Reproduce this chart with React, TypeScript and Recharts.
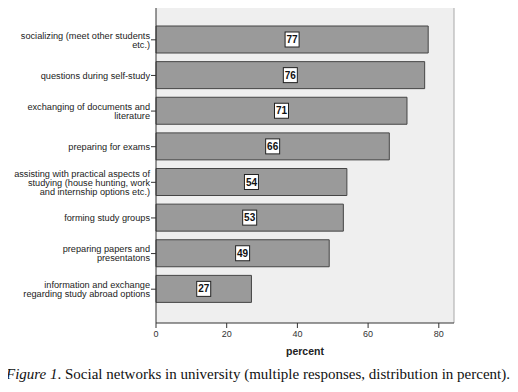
import { BarChart, Bar, XAxis, YAxis, CartesianGrid, LabelList } from "recharts";

const categories = [
  "socializing (meet other students\netc.)",
  "questions during self-study",
  "exchanging of documents and\nliterature",
  "preparing for exams",
  "assisting with practical aspects of\nstudying (house hunting, work\nand internship options etc.)",
  "forming study groups",
  "preparing papers and\npresentatons",
  "information and exchange\nregarding study abroad options",
];

const percentValues = [77, 76, 71, 66, 54, 53, 49, 27];

const xTicks = [0, 20, 40, 60, 80];

const data = categories.map((name, i) => ({ name, percent: percentValues[i] }));

const sans = "'Liberation Sans', Arial, sans-serif";

// multi-line category labels, centered on the tick
const CategoryTick = (props: any) => {
  const { x, y, payload } = props;
  const lines = String(payload.value).split("\n");
  const lh = 9;
  const start = -((lines.length - 1) * lh) / 2 + 3.2;
  return (
    <text x={x} y={y} textAnchor="end" fontSize={9.2} fill="#222" fontFamily={sans}>
      {lines.map((l, i) => (
        <tspan key={i} x={x} dy={i === 0 ? start : lh}>
          {l}
        </tspan>
      ))}
    </text>
  );
};

// white boxed value in the middle of the bar
const ValueBadge = (props: any) => {
  const { x, y, width, height, value } = props;
  const cx = x + width / 2;
  const cy = y + height / 2;
  return (
    <g>
      <rect x={cx - 7} y={cy - 7.5} width={14} height={15} fill="#fff" stroke="#222" strokeWidth={1} />
      <text x={cx} y={cy + 3.6} textAnchor="middle" fontSize={10} fontWeight="bold" fill="#111" fontFamily={sans}>
        {value}
      </text>
    </g>
  );
};

export default function App() {
  return (
    <div style={{ position: "relative", width: 518, height: 392, margin: -8, background: "#fff" }}>
      <BarChart
        width={518}
        height={360}
        data={data}
        layout="vertical"
        margin={{ top: 5, right: 64, left: 0, bottom: 0 }}
      >
        {/* plot background plus the light frame on top and right */}
        <CartesianGrid
          fill="#efefef"
          stroke="#a8a8a8"
          horizontalCoordinatesGenerator={({ offset }: any) => [offset.top]}
          verticalCoordinatesGenerator={({ offset }: any) => [offset.left + offset.width]}
        />
        <XAxis
          type="number"
          domain={[0, 84.3]}
          ticks={xTicks}
          height={37}
          tickSize={5}
          tickMargin={3}
          stroke="#333"
          tick={{ fontSize: 9, fill: "#333", fontFamily: sans }}
          label={{
            value: "percent",
            position: "insideBottom",
            offset: 5,
            style: { fontSize: 10.5, fontWeight: "bold", fill: "#222", fontFamily: sans },
          }}
        />
        <YAxis
          type="category"
          dataKey="name"
          width={156}
          tickSize={5}
          tickMargin={1}
          stroke="#333"
          interval={0}
          padding={{ top: 17, bottom: 16 }}
          tick={<CategoryTick />}
        />
        <Bar dataKey="percent" barSize={27} fill="#9a9a9a" stroke="#454545" strokeWidth={1} isAnimationActive={false}>
          <LabelList dataKey="percent" content={<ValueBadge />} />
        </Bar>
      </BarChart>
      <div
        style={{
          position: "absolute",
          left: 6,
          top: 366,
          fontFamily: "'Liberation Serif', 'Times New Roman', serif",
          fontSize: 15,
          color: "#111",
          whiteSpace: "nowrap",
        }}
      >
        <i>Figure 1</i>. Social networks in university (multiple responses, distribution in percent).
      </div>
    </div>
  );
}
